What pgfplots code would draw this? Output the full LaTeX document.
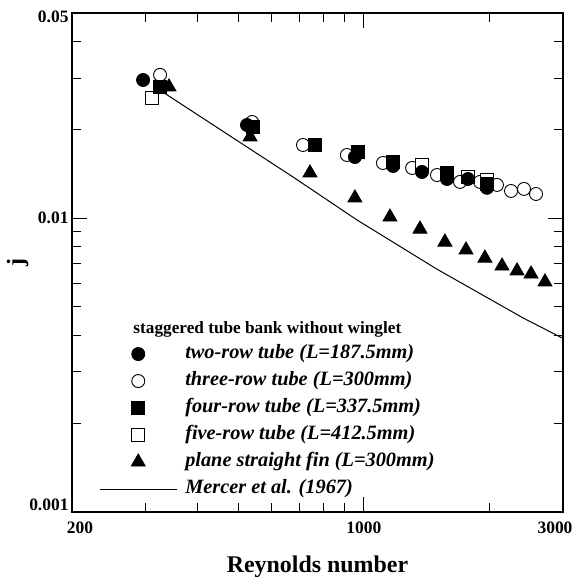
\documentclass[border=0pt]{standalone}
\usepackage{fontspec}
\setmainfont{Liberation Serif}
\usepackage{pgfplots}
\pgfplotsset{compat=1.18}

\pgfplotsset{
  fc/.style={only marks, mark=*, mark size=6.5bp, mark options={draw=black, fill=black, line width=0.9bp}},
  oc/.style={only marks, mark=*, mark size=6.5bp, mark options={draw=black, fill=white, line width=0.9bp}},
  fs/.style={only marks, mark=square*, mark size=6.5bp, mark options={draw=black, fill=black, line width=0.9bp}},
  os/.style={only marks, mark=square*, mark size=6.5bp, mark options={draw=black, fill=white, line width=0.9bp}},
  ft/.style={only marks, mark=triangle*, mark size=8bp, mark options={draw=black, fill=black, line width=0.9bp}},
  mercer/.style={black, line width=1bp, no marks},
}

\begin{document}
\begin{tikzpicture}
\begin{loglogaxis}[
  scale only axis, width=491bp, height=499bp,
  xmin=200, xmax=3000, ymin=0.001, ymax=0.05,
  xtick={200,1000,3000},
  xticklabels={\hspace*{16bp}200, 1000, 3000\hspace*{16bp}},
  minor xtick={300,400,500,600,700,800,900,2000},
  ytick={0.001,0.01,0.05},
  yticklabels={\raisebox{14bp}{0.001}, 0.01, \rule{0pt}{20bp}0.05},
  minor ytick={0.002,0.003,0.004,0.005,0.006,0.007,0.008,0.009,0.02,0.03,0.04},
  tick align=inside, major tick length=15bp, minor tick length=9bp,
  every tick/.style={black, line width=1bp},
  axis line style={line width=1.3bp},
  tick label style={font=\bfseries\fontsize{17.5}{17.5}\selectfont},
  xticklabel style={yshift=-6bp},
  xlabel={Reynolds number}, ylabel={j},
  label style={font=\bfseries\fontsize{24}{24}\selectfont},
  xlabel style={yshift=-16bp},
  ylabel style={yshift=-6bp},
  legend style={draw=none, fill=none, at={(0.049,0.34)}, anchor=north west,
    font=\bfseries\itshape\fontsize{20.4}{20.4}\selectfont, row sep=8bp,
    nodes={inner sep=0pt, text height=14bp, text depth=5bp},
    /tikz/every odd column/.append style={column sep=8bp}},
  legend cell align=left,
  legend image code/.code={\draw[mark repeat=2,mark phase=2,#1] plot coordinates {(0bp,0bp) (38.5bp,0bp) (77bp,0bp)};},
]
% open symbols first, filled ones drawn over them
\addplot[oc, forget plot] coordinates {
  (325,0.0308) (540,0.02128) (715,0.01777) (911,0.01643) (1111,0.01543)
  (1305,0.01484) (1497,0.01404) (1700,0.0133) (1898,0.0133) (2084,0.01299)
  (2252,0.01239) (2419,0.01259) (2585,0.0121)};
\addplot[os, forget plot] coordinates {
  (311,0.02568) (1378,0.01519) (1776,0.01382) (1972,0.0135)};
\addplot[fc, forget plot] coordinates {
  (296,0.02957) (525,0.02078) (952,0.01617) (1175,0.01507) (1378,0.01438)
  (1582,0.01361) (1776,0.01361) (1972,0.0127)};
\addplot[fs, forget plot] coordinates {
  (325,0.0280) (543,0.02046) (764,0.01777) (968,0.01682) (1175,0.01555)
  (1582,0.01427) (1972,0.0131)};
\addplot[ft, forget plot] coordinates {
  (341.5,0.0280) (534,0.01892) (743,0.01427) (952,0.01173) (1155,0.0101)
  (1363,0.00919) (1564,0.0083) (1757,0.0078) (1950,0.00732) (2143,0.00688)
  (2328,0.00662) (2515,0.00646) (2716,0.00607)};
\addplot[mercer, forget plot] coordinates {
  (330,0.0269) (500,0.0183) (677,0.01382) (963,0.00987) (1500,0.0067)
  (2406,0.00458) (3000,0.0039)};

\addlegendimage{fc}\addlegendentry{two-row tube (L=187.5mm)}
\addlegendimage{oc}\addlegendentry{three-row tube (L=300mm)}
\addlegendimage{fs}\addlegendentry{four-row tube (L=337.5mm)}
\addlegendimage{os}\addlegendentry{five-row tube (L=412.5mm)}
\addlegendimage{ft}\addlegendentry{plane straight fin (L=300mm)}
\addlegendimage{mercer}\addlegendentry{Mercer et al. (1967)}

\node[anchor=base west, font=\bfseries\fontsize{17.3}{17.3}\selectfont]
  at (rel axis cs:0.118,0.357) {staggered tube bank without winglet};
\end{loglogaxis}
\pgfresetboundingbox
\path[use as bounding box] ([shift={(-72bp,-68bp)}]current axis.south west)
  rectangle ([shift={(11bp,13bp)}]current axis.north east);
\end{tikzpicture}
\end{document}
